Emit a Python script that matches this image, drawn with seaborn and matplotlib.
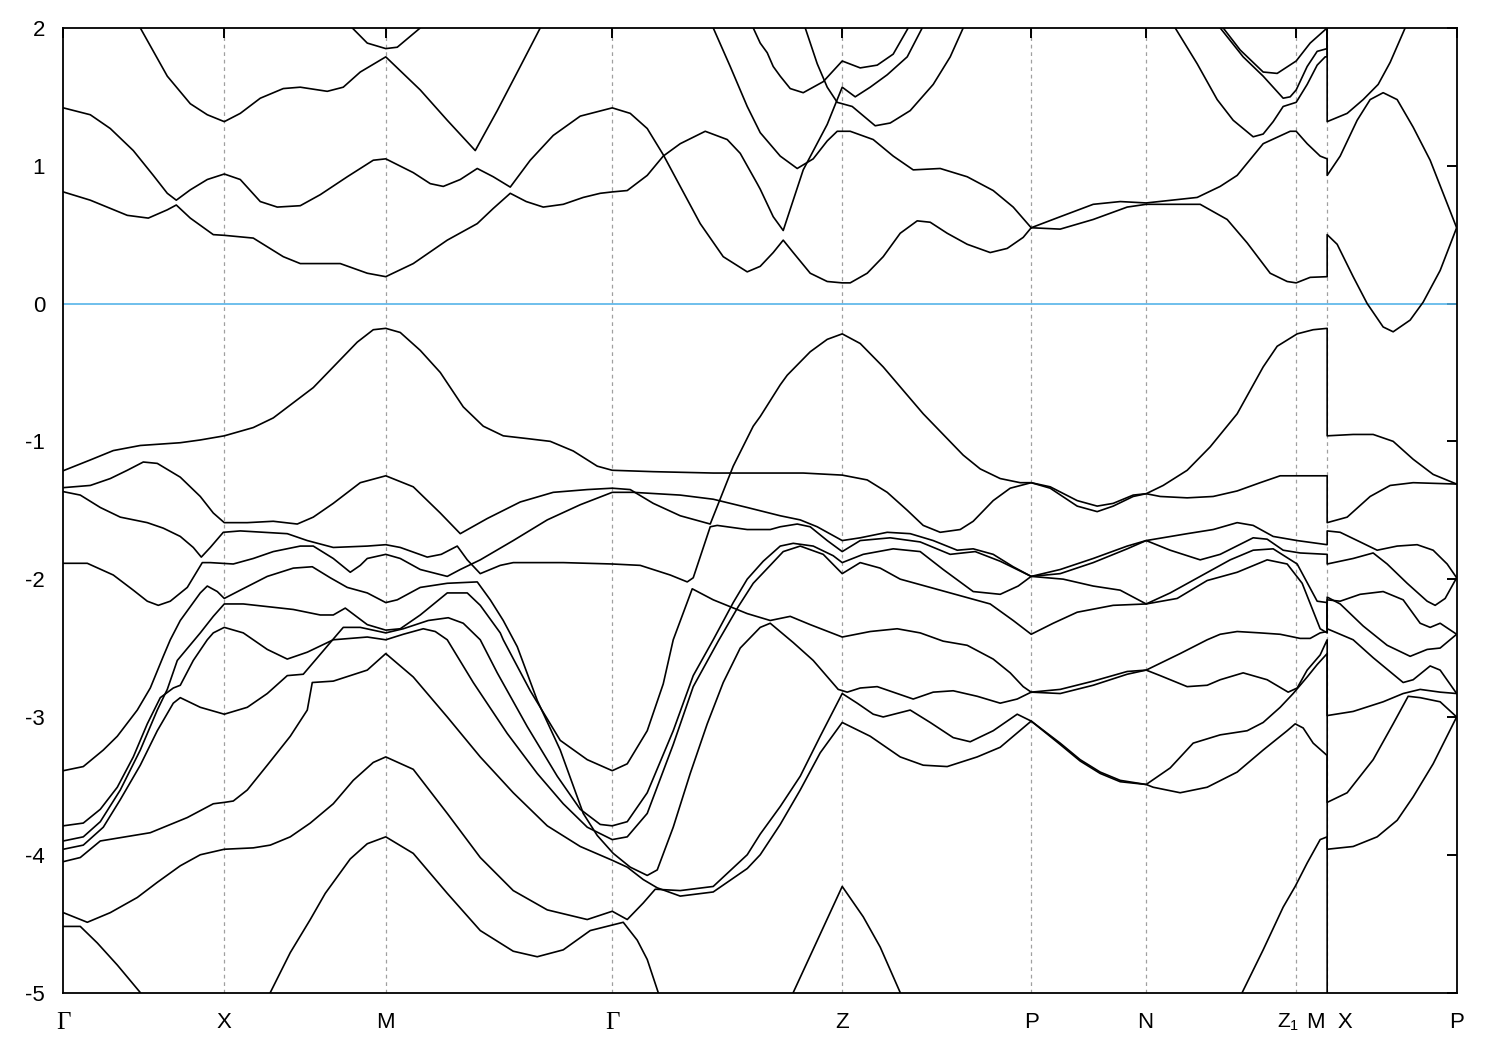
import matplotlib
matplotlib.use("Agg")
import matplotlib.pyplot as plt
import matplotlib.transforms as mtransforms
import pandas as pd
import seaborn as sns

sns.set_theme(style="white")
plt.rcParams["font.family"] = ["Liberation Sans", "DejaVu Sans"]
plt.rcParams["axes.unicode_minus"] = False
plt.rcParams["mathtext.fontset"] = "custom"
plt.rcParams["mathtext.rm"] = "Liberation Sans"
plt.rcParams["mathtext.it"] = "Liberation Sans:italic"

# high-symmetry points (k-path distance, arbitrary units)
kpoint_pos = [0, 161, 322.5, 549, 779, 968, 1082.5, 1233, 1264, 1393.5]
kpoint_labels = ["Γ", "X", "M", "Γ", "Z", "P", "N", "Z$_1$", "M  X", "P"]
energy_ticks = [2, 1, 0, -1, -2, -3, -4, -5]

# ---------------- conduction bands (k, E in eV) ----------------
cond_1 = [(0,0.81),(27,0.75),(64,0.64),(85,0.62),(104,0.68),(113,0.715),(127,0.62),(150,0.50),(161,0.495),(190,0.475),(220,0.34),(237,0.29),(277,0.29),(304,0.22),(322.5,0.195),(350,0.29),(384,0.46),(414,0.58),(430,0.69),(447,0.80),(463,0.74),(480,0.70),(500,0.72),(520,0.77),(537,0.80),(549,0.81),(564,0.82),(584,0.93),(600,1.07),(617,1.16),(642,1.25),(664,1.19),(677,1.09),(694,0.87),(697,0.83),(710,0.63),(720,0.53),(730,0.75),(740,0.97),(764,1.30),(779,1.57),(792,1.50),(807,1.57),(824,1.66),(844,1.79),(859,2.0),(863,2.06)]
cond_2 = [(0,1.42),(27,1.37),(47,1.27),(70,1.11),(90,0.93),(104,0.80),(113,0.75),(127,0.825),(144,0.90),(161,0.94),(177,0.90),(197,0.74),(214,0.70),(237,0.71),(257,0.79),(284,0.92),(310,1.04),(322.5,1.05),(350,0.95),(367,0.87),(380,0.85),(397,0.90),(414,0.98),(430,0.92),(447,0.845),(467,1.04),(490,1.22),(517,1.36),(549,1.42),(567,1.38),(584,1.27),(600,1.08),(617,0.85),(637,0.58),(660,0.34),(684,0.23),(697,0.27),(710,0.37),(720,0.46),(730,0.37),(747,0.22),(764,0.16),(779,0.15),(787,0.15),(804,0.22),(820,0.34),(837,0.51),(854,0.60),(867,0.59),(884,0.51),(904,0.43),(927,0.37),(944,0.40),(960,0.48),(968,0.55)]
cond_3 = [(72,2.1),(77,2.0),(104,1.65),(127,1.45),(144,1.37),(161,1.32),(177,1.38),(197,1.49),(220,1.56),(237,1.57),(264,1.54),(280,1.57),(297,1.68),(322.5,1.79),(357,1.55),(384,1.33),(412,1.11),(434,1.40),(457,1.72),(477,2.0),(481,2.08)]
cond_4 = [(285,2.05),(289,2.0),(304,1.89),(322.5,1.85),(334,1.86),(357,2.0),(360,2.05)]
cond_5 = [(647,2.05),(650,2.0),(667,1.72),(684,1.43),(697,1.24),(717,1.07),(734,0.98),(750,1.05),(764,1.18),(774,1.25),(787,1.25),(810,1.19),(830,1.07),(850,0.97),(877,0.98),(904,0.92),(930,0.82),(950,0.70),(968,0.55)]
cond_6 = [(687,2.05),(690,2.0),(697,1.89),(704,1.82),(710,1.72),(717,1.65),(727,1.56),(740,1.53),(760,1.61),(779,1.76),(797,1.71),(814,1.73),(830,1.81),(845,2.0),(848,2.05)]
cond_7 = [(740,2.05),(742,2.0),(754,1.74),(764,1.57),(774,1.46),(789,1.43),(812,1.29),(827,1.31),(847,1.40),(870,1.59),(887,1.79),(900,2.0),(903,2.05)]
cond_8 = [(968,0.55),(997,0.63),(1030,0.72),(1057,0.74),(1083,0.73),(1134,0.77),(1157,0.85),(1174,0.93),(1200,1.16),(1227,1.25),(1233,1.25),(1244,1.16),(1257,1.07),(1264,1.05),(1264,0.93),(1277,1.07),(1294,1.33),(1307,1.48),(1320,1.53),(1334,1.48),(1350,1.28),(1367,1.04),(1380,0.80),(1393.5,0.55)]
cond_9 = [(968,0.55),(997,0.54),(1030,0.61),(1064,0.70),(1083,0.72),(1137,0.72),(1164,0.61),(1184,0.44),(1207,0.22),(1224,0.16),(1233,0.15),(1247,0.19),(1264,0.195),(1264,0.50),(1274,0.43),(1290,0.195),(1304,0.0),(1320,-0.17),(1330,-0.205),(1347,-0.12),(1360,0.01),(1377,0.24),(1393.5,0.55)]
cond_10 = [(1110,2.05),(1112,2.0),(1134,1.74),(1154,1.48),(1170,1.33),(1190,1.21),(1200,1.23),(1210,1.32),(1220,1.43),(1233,1.46),(1244,1.59),(1254,1.73),(1262,1.79),(1264,1.79),(1264,2.05)]
cond_11 = [(1155,2.05),(1157,2.0),(1180,1.79),(1200,1.65),(1220,1.49),(1227,1.50),(1233,1.55),(1244,1.72),(1254,1.83),(1264,1.85),(1264,2.05)]
cond_12 = [(1158,2.05),(1160,2.0),(1177,1.84),(1200,1.68),(1214,1.67),(1233,1.76),(1247,1.89),(1264,2.0),(1264,1.32),(1284,1.38),(1300,1.48),(1315,1.59),(1327,1.75),(1342,2.0),(1344,2.05)]

# ---------------- valence bands ----------------
val_1 = [(0,-1.213),(27,-1.135),(50,-1.067),(77,-1.03),(117,-1.01),(137,-0.99),(161,-0.96),(190,-0.90),(210,-0.83),(230,-0.72),(250,-0.61),(270,-0.46),(294,-0.28),(310,-0.19),(322.5,-0.18),(337,-0.21),(357,-0.34),(377,-0.50),(400,-0.75),(420,-0.89),(440,-0.96),(464,-0.98),(487,-1.00),(510,-1.07),(534,-1.18),(549,-1.21),(590,-1.22),(650,-1.23),(740,-1.23),(779,-1.245),(804,-1.28),(824,-1.37),(844,-1.50),(860,-1.61),(877,-1.66),(897,-1.64),(910,-1.58),(930,-1.43),(947,-1.34),(968,-1.30),(987,-1.33),(1014,-1.43),(1034,-1.47),(1050,-1.45),(1070,-1.39),(1083,-1.38),(1097,-1.40),(1124,-1.41),(1150,-1.40),(1174,-1.36),(1197,-1.30),(1217,-1.25),(1264,-1.25),(1264,-1.59),(1284,-1.55),(1307,-1.40),(1327,-1.32),(1350,-1.30),(1393.5,-1.31)]
val_2 = [(0,-1.336),(27,-1.32),(47,-1.27),(64,-1.21),(80,-1.15),(94,-1.16),(117,-1.26),(137,-1.40),(150,-1.52),(161,-1.59),(184,-1.59),(210,-1.58),(234,-1.60),(250,-1.55),(270,-1.45),(297,-1.30),(322.5,-1.25),(350,-1.33),(377,-1.52),(397,-1.67),(424,-1.56),(457,-1.44),(490,-1.37),(524,-1.35),(549,-1.34),(567,-1.35),(590,-1.45),(617,-1.54),(647,-1.60),(670,-1.18),(690,-0.89),(697,-0.82),(717,-0.59),(724,-0.52),(747,-0.35),(764,-0.26),(779,-0.22),(797,-0.29),(820,-0.46),(840,-0.63),(860,-0.80),(880,-0.95),(900,-1.10),(917,-1.20),(937,-1.27),(957,-1.30),(968,-1.30),(987,-1.34),(1014,-1.47),(1034,-1.51),(1050,-1.47),(1070,-1.40),(1083,-1.38),(1100,-1.32),(1124,-1.21),(1147,-1.04),(1174,-0.80),(1200,-0.46),(1214,-0.31),(1234,-0.22),(1250,-0.19),(1264,-0.18),(1264,-0.96),(1290,-0.95),(1310,-0.95),(1330,-1.00),(1350,-1.13),(1370,-1.24),(1393.5,-1.31)]
val_3 = [(0,-1.365),(17,-1.39),(37,-1.48),(57,-1.55),(84,-1.59),(100,-1.63),(117,-1.69),(130,-1.77),(138,-1.84),(147,-1.77),(160,-1.66),(177,-1.65),(224,-1.67),(244,-1.72),(270,-1.77),(304,-1.76),(322.5,-1.75),(337,-1.77),(364,-1.84),(378,-1.82),(394,-1.76),(404,-1.86),(417,-1.96),(437,-1.90),(450,-1.88),(500,-1.88),(549,-1.89),(577,-1.90),(607,-1.97),(624,-2.02),(630,-1.99),(647,-1.62),(654,-1.61),(684,-1.64),(707,-1.64),(717,-1.62),(734,-1.60),(747,-1.62),(764,-1.72),(779,-1.80),(797,-1.72),(827,-1.70),(857,-1.73),(887,-1.82),(912,-1.80),(937,-1.87),(968,-1.98),(997,-1.93),(1030,-1.85),(1064,-1.76),(1083,-1.72),(1124,-1.67),(1150,-1.64),(1174,-1.59),(1190,-1.61),(1210,-1.69),(1234,-1.72),(1264,-1.75),(1264,-1.65),(1277,-1.66),(1297,-1.73),(1314,-1.79),(1334,-1.76),(1354,-1.75),(1370,-1.79),(1384,-1.89),(1393.5,-1.99)]
val_4 = [(0,-1.885),(24,-1.885),(50,-1.97),(70,-2.08),(84,-2.16),(95,-2.19),(107,-2.16),(124,-2.06),(139,-1.88),(147,-1.88),(170,-1.89),(190,-1.85),(210,-1.80),(237,-1.76),(250,-1.76),(270,-1.85),(287,-1.95),(297,-1.90),(304,-1.85),(322.5,-1.82),(337,-1.85),(357,-1.93),(384,-1.98),(397,-1.93),(417,-1.86),(450,-1.72),(484,-1.57),(517,-1.46),(549,-1.37),(570,-1.37),(617,-1.39),(650,-1.42),(684,-1.48),(717,-1.54),(737,-1.57),(754,-1.62),(779,-1.72),(797,-1.70),(824,-1.66),(847,-1.67),(870,-1.72),(894,-1.79),(910,-1.78),(930,-1.82),(950,-1.91),(968,-1.98),(997,-1.96),(1030,-1.88),(1064,-1.78),(1083,-1.72),(1107,-1.79),(1137,-1.86),(1157,-1.82),(1190,-1.70),(1204,-1.71),(1220,-1.79),(1237,-1.81),(1264,-1.82),(1264,-1.89),(1290,-1.85),(1310,-1.81),(1324,-1.89),(1344,-2.03),(1364,-2.16),(1372,-2.19),(1382,-2.14),(1393.5,-1.99)]
val_5 = [(0,-3.39),(20,-3.36),(40,-3.24),(54,-3.14),(74,-2.95),(87,-2.79),(100,-2.56),(107,-2.44),(117,-2.30),(137,-2.10),(144,-2.05),(154,-2.09),(161,-2.14),(177,-2.08),(204,-1.98),(230,-1.92),(249,-1.91),(267,-1.99),(284,-2.06),(304,-2.10),(322.5,-2.17),(334,-2.15),(357,-2.06),(384,-2.03),(414,-2.02),(427,-2.15),(440,-2.30),(454,-2.49),(474,-2.88),(497,-3.24),(520,-3.70),(534,-3.86),(550,-3.99),(567,-4.09),(584,-4.15),(594,-4.11),(610,-3.80),(627,-3.41),(644,-3.05),(660,-2.75),(677,-2.50),(697,-2.35),(707,-2.32),(730,-2.46),(750,-2.59),(775,-2.80),(784,-2.82),(797,-2.79),(814,-2.78),(830,-2.82),(850,-2.87),(870,-2.82),(890,-2.81),(914,-2.85),(937,-2.90),(954,-2.87),(968,-2.82),(997,-2.83),(1030,-2.77),(1064,-2.69),(1083,-2.66),(1097,-2.70),(1124,-2.78),(1144,-2.77),(1157,-2.73),(1180,-2.68),(1204,-2.73),(1225,-2.82),(1234,-2.79),(1244,-2.66),(1257,-2.55),(1264,-2.44),(1264,-2.99),(1290,-2.96),(1320,-2.89),(1340,-2.83),(1357,-2.80),(1377,-2.82),(1393.5,-2.83)]
val_6 = [(0,-3.79),(20,-3.77),(37,-3.67),(54,-3.51),(70,-3.29),(84,-3.05),(97,-2.86),(110,-2.79),(117,-2.77),(130,-2.59),(144,-2.44),(150,-2.39),(161,-2.35),(180,-2.39),(204,-2.51),(224,-2.58),(244,-2.53),(270,-2.44),(304,-2.42),(322.5,-2.44),(340,-2.40),(360,-2.36),(372,-2.38),(384,-2.44),(410,-2.75),(444,-3.12),(474,-3.41),(500,-3.63),(524,-3.80),(549,-3.89),(564,-3.87),(584,-3.70),(610,-3.20),(630,-2.78),(655,-2.45),(675,-2.20),(690,-2.03),(707,-1.90),(720,-1.80),(737,-1.76),(760,-1.82),(779,-1.96),(797,-1.88),(817,-1.92),(837,-2.00),(867,-2.06),(897,-2.12),(927,-2.18),(950,-2.30),(968,-2.40),(990,-2.32),(1014,-2.24),(1050,-2.19),(1083,-2.18),(1114,-2.14),(1144,-2.01),(1174,-1.95),(1204,-1.86),(1224,-1.89),(1239,-2.03),(1257,-2.36),(1264,-2.39),(1264,-2.13),(1277,-2.18),(1300,-2.34),(1324,-2.48),(1347,-2.56),(1364,-2.51),(1377,-2.50),(1393.5,-2.40)]
val_7 = [(0,-3.90),(20,-3.87),(37,-3.76),(57,-3.53),(77,-3.24),(94,-2.95),(104,-2.80),(114,-2.59),(137,-2.39),(150,-2.27),(161,-2.18),(180,-2.18),(230,-2.22),(257,-2.26),(270,-2.26),(282,-2.21),(304,-2.33),(322.5,-2.37),(337,-2.36),(357,-2.26),(384,-2.10),(404,-2.10),(417,-2.19),(437,-2.39),(440,-2.44),(467,-2.81),(497,-3.17),(524,-3.31),(549,-3.39),(564,-3.34),(584,-3.10),(600,-2.76),(610,-2.44),(629,-2.07),(650,-2.15),(684,-2.25),(707,-2.30),(727,-2.27),(747,-2.33),(779,-2.42),(807,-2.38),(834,-2.36),(857,-2.39),(880,-2.45),(904,-2.48),(930,-2.58),(947,-2.68),(960,-2.78),(968,-2.82),(997,-2.80),(1030,-2.74),(1064,-2.67),(1083,-2.66),(1117,-2.54),(1144,-2.44),(1157,-2.40),(1174,-2.38),(1197,-2.39),(1217,-2.40),(1237,-2.43),(1247,-2.43),(1257,-2.39),(1264,-2.38),(1264,-2.15),(1277,-2.16),(1297,-2.11),(1320,-2.09),(1340,-2.15),(1357,-2.32),(1367,-2.35),(1377,-2.32),(1393.5,-2.40)]
val_8 = [(0,-3.96),(20,-3.93),(40,-3.80),(57,-3.60),(77,-3.35),(94,-3.10),(110,-2.90),(117,-2.86),(137,-2.93),(161,-2.98),(184,-2.93),(204,-2.83),(224,-2.70),(240,-2.69),(260,-2.52),(267,-2.46),(280,-2.35),(297,-2.35),(322.5,-2.39),(340,-2.36),(365,-2.30),(385,-2.28),(400,-2.32),(417,-2.44),(434,-2.68),(464,-3.07),(494,-3.43),(517,-3.67),(537,-3.78),(549,-3.79),(564,-3.76),(584,-3.55),(610,-3.10),(630,-2.70),(650,-2.44),(670,-2.17),(684,-2.00),(700,-1.87),(717,-1.76),(730,-1.74),(750,-1.76),(770,-1.83),(779,-1.88),(800,-1.82),(830,-1.78),(857,-1.80),(880,-1.93),(910,-2.09),(937,-2.11),(955,-2.05),(968,-1.98),(1000,-2.00),(1030,-2.05),(1057,-2.08),(1083,-2.18),(1107,-2.10),(1137,-1.98),(1167,-1.86),(1190,-1.79),(1210,-1.78),(1234,-1.89),(1254,-2.16),(1264,-2.17),(1264,-2.36),(1290,-2.44),(1310,-2.57),(1340,-2.75),(1350,-2.73),(1367,-2.63),(1377,-2.66),(1393.5,-2.83)]
val_9 = [(0,-4.05),(17,-4.02),(37,-3.90),(87,-3.84),(124,-3.73),(150,-3.63),(161,-3.62),(170,-3.61),(184,-3.53),(204,-3.35),(227,-3.14),(244,-2.95),(249,-2.75),(270,-2.74),(304,-2.66),(322.5,-2.54),(350,-2.71),(384,-3.0),(417,-3.29),(450,-3.55),(484,-3.79),(517,-3.94),(549,-4.04),(564,-4.09),(580,-4.18),(594,-4.24),(617,-4.30),(650,-4.27),(684,-4.10),(697,-4.00),(717,-3.78),(737,-3.53),(757,-3.26),(779,-3.04),(807,-3.14),(837,-3.29),(860,-3.35),(884,-3.36),(914,-3.29),(937,-3.22),(968,-3.03),(997,-3.19),(1017,-3.31),(1037,-3.40),(1057,-3.46),(1083,-3.49),(1090,-3.51),(1117,-3.55),(1144,-3.51),(1174,-3.40),(1200,-3.24),(1224,-3.10),(1232,-3.05),(1240,-3.08),(1250,-3.19),(1264,-3.28),(1264,-3.96),(1290,-3.94),(1314,-3.87),(1334,-3.75),(1350,-3.58),(1370,-3.34),(1393.5,-3.0)]
val_10 = [(0,-4.42),(24,-4.49),(47,-4.42),(74,-4.31),(94,-4.20),(117,-4.08),(137,-4.0),(161,-3.96),(190,-3.95),(207,-3.93),(227,-3.87),(247,-3.77),(270,-3.63),(290,-3.46),(310,-3.33),(322.5,-3.29),(350,-3.38),(384,-3.70),(417,-4.02),(450,-4.26),(484,-4.40),(524,-4.47),(549,-4.41),(564,-4.47),(580,-4.35),(592,-4.25),(617,-4.26),(650,-4.23),(684,-4.00),(697,-3.85),(717,-3.65),(737,-3.43),(757,-3.14),(779,-2.83),(794,-2.90),(810,-2.98),(820,-3.0),(847,-2.95),(867,-3.04),(890,-3.15),(907,-3.18),(930,-3.10),(954,-2.98),(968,-3.03),(997,-3.20),(1017,-3.32),(1037,-3.41),(1057,-3.47),(1083,-3.49),(1107,-3.37),(1130,-3.19),(1157,-3.13),(1184,-3.10),(1200,-3.04),(1217,-2.93),(1230,-2.83),(1244,-2.71),(1254,-2.62),(1264,-2.54),(1264,-3.62),(1284,-3.55),(1310,-3.31),(1330,-3.05),(1345,-2.85),(1357,-2.86),(1377,-2.89),(1393.5,-3.0)]
val_11 = [(0,-4.52),(17,-4.52),(34,-4.64),(54,-4.80),(77,-5.0),(80,-5.04)]
val_12 = [(204,-5.05),(207,-5.0),(227,-4.71),(247,-4.47),(262,-4.28),(287,-4.03),(304,-3.92),(322.5,-3.87),(350,-3.99),(384,-4.28),(417,-4.55),(450,-4.70),(474,-4.74),(500,-4.69),(527,-4.55),(549,-4.51),(560,-4.49),(574,-4.62),(584,-4.76),(595,-5.0),(597,-5.05)]
val_13 = [(728,-5.05),(730,-5.0),(779,-4.23),(800,-4.45),(817,-4.67),(837,-5.0),(839,-5.05)]
val_14 = [(1177,-5.05),(1179,-5.0),(1200,-4.69),(1220,-4.38),(1232,-4.23),(1244,-4.06),(1257,-3.89),(1264,-3.87),(1264,-5.1)]

bands = {
    "c1": cond_1, "c2": cond_2, "c3": cond_3, "c4": cond_4, "c5": cond_5, "c6": cond_6,
    "c7": cond_7, "c8": cond_8, "c9": cond_9, "c10": cond_10, "c11": cond_11, "c12": cond_12,
    "v1": val_1, "v2": val_2, "v3": val_3, "v4": val_4, "v5": val_5, "v6": val_6, "v7": val_7,
    "v8": val_8, "v9": val_9, "v10": val_10, "v11": val_11, "v12": val_12, "v13": val_13, "v14": val_14,
}
rows = []
for name, pts in bands.items():
    for i, (k, e) in enumerate(pts):
        rows.append({"band": name, "order": i, "k": k, "E": e})
df = pd.DataFrame(rows)

fig = plt.figure(figsize=(15, 10.5), dpi=100)
ax = fig.add_axes([0.0422, 0.0547, 0.9289, 0.9187])

for k in kpoint_pos[1:-1]:
    ax.axvline(k, color="#a0a0a0", lw=0.9, ls=(0, (3, 3)), zorder=0)
ax.axhline(0, color="#56B4E9", lw=1.2, zorder=1)

sns.lineplot(data=df, x="k", y="E", units="band", estimator=None, sort=False,
             color="black", linewidth=1.2, ax=ax, legend=False, zorder=2)

ax.set_xlim(kpoint_pos[0], kpoint_pos[-1])
ax.set_ylim(-5, 2)
ax.set_xticks(kpoint_pos)
ax.set_xticklabels(kpoint_labels)
ax.set_yticks(energy_ticks)
ax.set_yticklabels([str(t) for t in energy_ticks])
ax.set_xlabel("")
ax.set_ylabel("")

for s in ax.spines.values():
    s.set_color("black")
    s.set_linewidth(1.3)
ax.tick_params(axis="both", direction="in", length=7, width=1.4, color="black",
               top=True, right=True, labelsize=16, labelcolor="black")
ax.tick_params(axis="x", pad=14)
ax.tick_params(axis="y", pad=13)
ax.grid(False)

for lab in ax.get_xticklabels():
    txt = lab.get_text()
    if txt == "Γ":
        lab.set_fontfamily(["Liberation Serif", "DejaVu Serif"])
        lab.set_fontsize(18)
    elif txt.startswith("Z$"):
        lab.set_fontsize(15)
        lab.set_transform(lab.get_transform() + mtransforms.ScaledTranslation(-6 / 72, 0, fig.dpi_scale_trans))
    elif txt.startswith("M "):
        lab.set_transform(lab.get_transform() + mtransforms.ScaledTranslation(2 / 72, 0, fig.dpi_scale_trans))

fig.savefig("out.png", dpi=100)
